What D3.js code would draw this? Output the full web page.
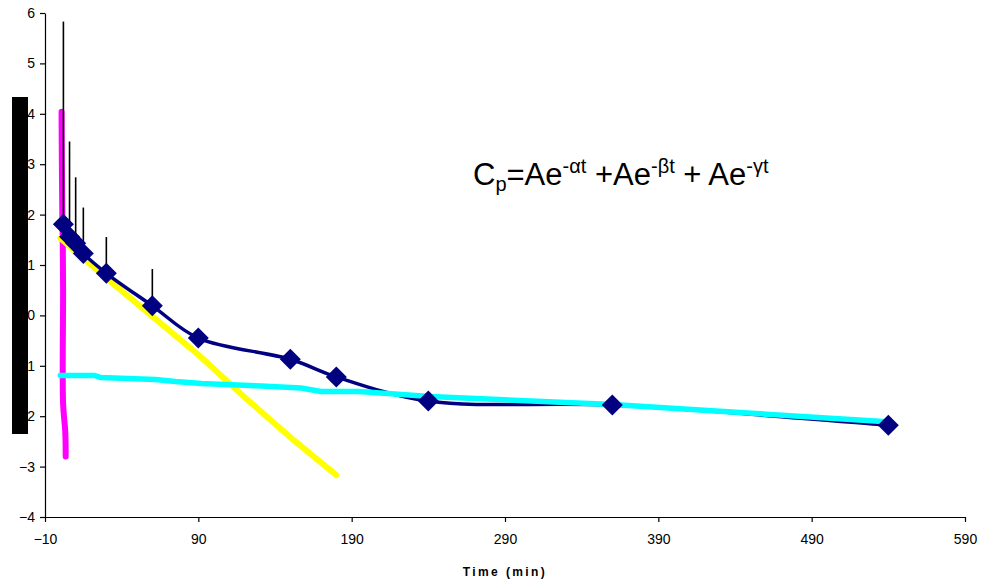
<!DOCTYPE html>
<html>
<head>
<meta charset="utf-8">
<script src="https://cdn.jsdelivr.net/npm/d3@7"></script>
<style>
    body { margin: 0; background: #fff; }
    svg { display: block; font-family: "Liberation Sans", Arial, sans-serif; }
</style>
</head>
<body>
<svg id="chart"></svg>
<script>
// measured concentration (ln) with upper error bars
const sampleTimes = [2, 6, 10, 15, 30, 60, 90, 150, 180, 240, 360, 540];
const sampleValues = [1.81, 1.56, 1.43, 1.23, 0.835, 0.19, -0.45, -0.87, -1.22, -1.70, -1.78, -2.18];
const sampleErrors = [4.02, 1.89, 1.31, 0.91, 0.72, 0.73, 0, 0, 0, 0, 0, 0];

// alpha phase (magenta)
const alphaTimes = [0.8, 1.0, 1.3, 1.6, 1.8, 1.8, 3.2, 3.5];
const alphaValues = [4.04, 3.0, 2.0, 1.4, 0.5, -1.75, -2.3, -2.8];

// beta phase (yellow)
const betaTimes = [0, 30, 60, 90, 120, 150, 180];
const betaValues = [1.53, 0.74, -0.02, -0.78, -1.62, -2.42, -3.17];

// gamma phase (cyan)
const gammaTimes = [0, 22, 26, 62, 75, 92, 131, 157, 170, 195, 241, 360, 539];
const gammaValues = [-1.19, -1.19, -1.23, -1.27, -1.31, -1.35, -1.40, -1.44, -1.51, -1.51, -1.61, -1.77, -2.11];

const xTicks = [-10, 90, 190, 290, 390, 490, 590];
const yTicks = [-4, -3, -2, -1, 0, 1, 2, 3, 4, 5, 6];

const width = 981, height = 581;
const margin = { left: 45, right: 16, top: 13, bottom: 64 };

const svg = d3.select("#chart")
    .attr("width", width)
    .attr("height", height);

const x = d3.scaleLinear().domain([-10, 590]).range([margin.left, width - margin.right]);
const y = d3.scaleLinear().domain([-4, 6]).range([height - margin.bottom, margin.top]);

const zip = (ts, vs) => ts.map((t, i) => ({ t: t, v: vs[i] }));

// axes
const xAxis = svg.append("g")
    .attr("transform", `translate(0,${y(-4)})`)
    .call(d3.axisBottom(x).tickValues(xTicks).tickSize(5).tickSizeOuter(0).tickPadding(12).tickFormat(d3.format("d")));
const yAxis = svg.append("g")
    .attr("transform", `translate(${x(-10)},0)`)
    .call(d3.axisLeft(y).tickValues(yTicks).tickSize(5).tickSizeOuter(0).tickPadding(5).tickFormat(d3.format("d")));

for (const ax of [xAxis, yAxis]) {
    ax.select(".domain").attr("stroke", "#000").attr("stroke-width", 1.2);
    ax.selectAll(".tick line").attr("stroke", "#000").attr("stroke-width", 1.2);
    ax.selectAll(".tick text")
        .attr("fill", "#000")
        .style("font-size", "14px")
        .style("font-family", "'Liberation Sans', Arial, sans-serif");
}

svg.append("text")
    .attr("x", (x(-10) + x(590)) / 2)
    .attr("y", 576)
    .attr("text-anchor", "middle")
    .style("font-size", "12px")
    .style("font-weight", "bold")
    .style("letter-spacing", "2.4px")
    .text("Time (min)");

// series lines
const line = d3.line().x(d => x(d.t)).y(d => y(d.v));

svg.append("path")
    .datum(zip(alphaTimes, alphaValues))
    .attr("d", line.curve(d3.curveCatmullRom))
    .attr("fill", "none")
    .attr("stroke", "#ff00ff")
    .attr("stroke-width", 6)
    .attr("stroke-linecap", "round")
    .attr("stroke-linejoin", "round");

svg.append("path")
    .datum(zip(betaTimes, betaValues))
    .attr("d", line.curve(d3.curveLinear))
    .attr("fill", "none")
    .attr("stroke", "#ffff00")
    .attr("stroke-width", 6)
    .attr("stroke-linecap", "round")
    .attr("stroke-linejoin", "round");

svg.append("path")
    .datum(zip(sampleTimes, sampleValues))
    .attr("d", line.curve(d3.curveCatmullRom.alpha(0.5)))
    .attr("fill", "none")
    .attr("stroke", "#000080")
    .attr("stroke-width", 3.5)
    .attr("stroke-linejoin", "round");

svg.append("path")
    .datum(zip(gammaTimes, gammaValues))
    .attr("d", line.curve(d3.curveLinear))
    .attr("fill", "none")
    .attr("stroke", "#00ffff")
    .attr("stroke-width", 5.5)
    .attr("stroke-linecap", "round")
    .attr("stroke-linejoin", "round");

// error bars (upper only)
const samples = sampleTimes.map((t, i) => ({ t: t, v: sampleValues[i], e: sampleErrors[i] }));
svg.append("g")
    .selectAll("line")
    .data(samples.filter(d => d.e > 0))
    .enter()
    .append("line")
    .attr("x1", d => x(d.t))
    .attr("x2", d => x(d.t))
    .attr("y1", d => y(d.v))
    .attr("y2", d => y(d.v + d.e))
    .attr("stroke", "#000")
    .attr("stroke-width", 1.6);

// diamond markers
const r = 10.5;
svg.append("g")
    .selectAll("path")
    .data(samples)
    .enter()
    .append("path")
    .attr("transform", d => `translate(${x(d.t)},${y(d.v)})`)
    .attr("d", `M0,${-r}L${r},0L0,${r}L${-r},0Z`)
    .attr("fill", "#000080");

// equation
const eq = svg.append("text")
    .attr("x", 473)
    .attr("y", 185)
    .attr("fill", "#000")
    .style("font-size", "31px");
const parts = [
    ["C", 31, 0], ["p", 20, 6], ["=Ae", 31, -6], ["-αt", 20, -12],
    ["\u00a0+Ae", 31, 12], ["-βt", 20, -12], ["\u00a0+ Ae", 31, 12], ["-γt", 20, -12]
];
for (const [s, size, dy] of parts) {
    eq.append("tspan").attr("dy", dy).style("font-size", size + "px").text(s);
}

// black box over the y axis title
svg.append("rect")
    .attr("x", 12)
    .attr("y", 97)
    .attr("width", 16)
    .attr("height", 337)
    .attr("fill", "#000");
</script>
</body>
</html>
